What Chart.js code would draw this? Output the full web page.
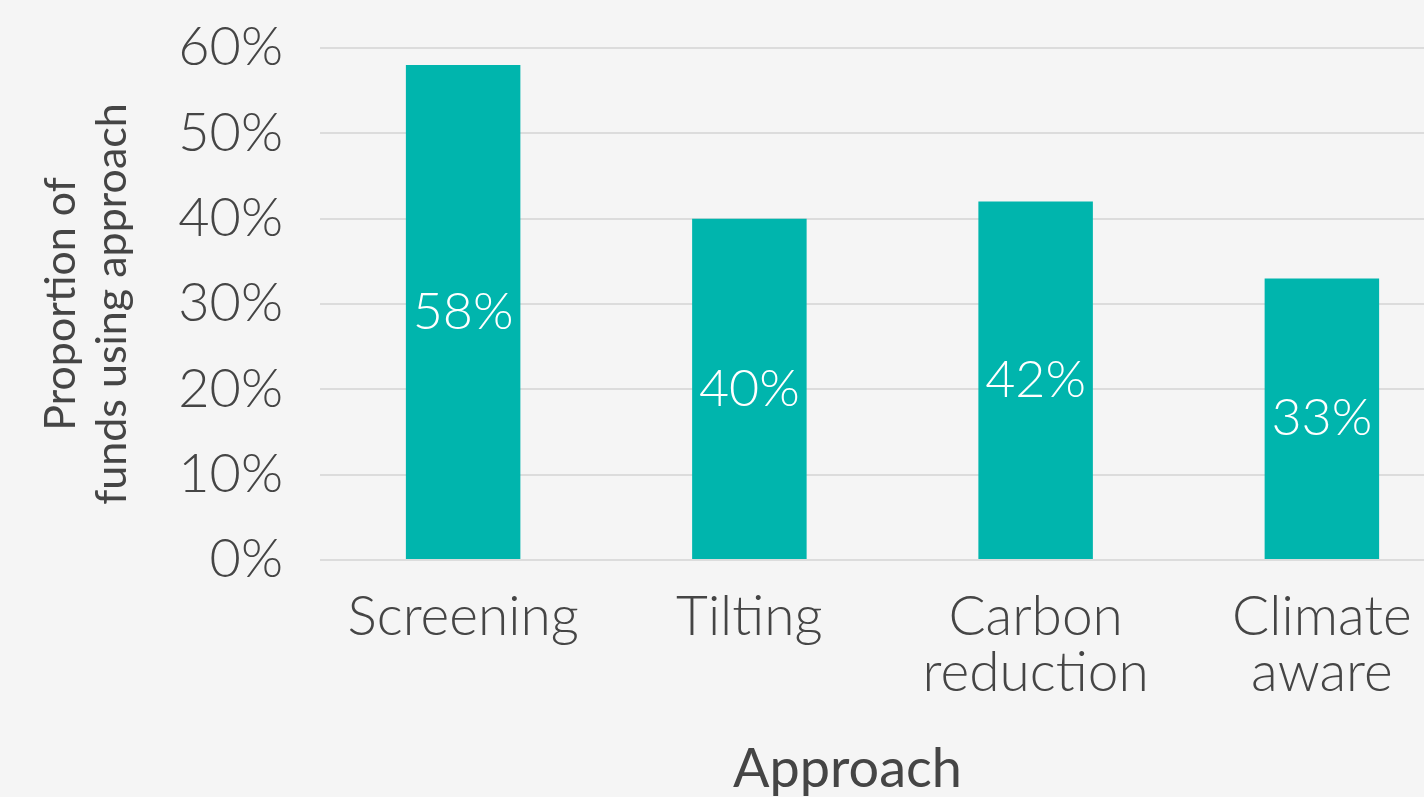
<!DOCTYPE html>
<html>
<head>
<meta charset="utf-8">
<script src="https://cdn.jsdelivr.net/npm/chart.js@4/dist/chart.umd.min.js"></script>
<style>
  html, body { margin: 0; padding: 0; background: #f5f5f5; overflow: hidden; }
  #wrap { width: 1465px; height: 797px; position: relative; }
</style>
</head>
<body>
<div id="wrap"><canvas id="approachChart"></canvas></div>
<script>
// approaches used by funds, share in percent
var approaches = ['Screening', 'Tilting', ['Carbon', 'reduction'], ['Climate', 'aware']];
var shareOfFunds = [58, 40, 42, 33];
var yTicks = [0, 10, 20, 30, 40, 50, 60];
var yTitle = ['Proportion of', 'funds using approach'];
var xTitle = 'Approach';

var textColor = '#454545';
var barColor = '#00b5ad';
var lightFont = 'Lato';

// value labels in the middle of every bar
var barLabels = {
    id: 'barLabels',
    afterDatasetsDraw: function (chart) {
        var ctx = chart.ctx;
        var meta = chart.getDatasetMeta(0);
        ctx.save();
        ctx.fillStyle = '#ffffff';
        ctx.font = '300 52px ' + lightFont;
        ctx.textAlign = 'center';
        ctx.textBaseline = 'middle';
        meta.data.forEach(function (bar, i) {
            var mid = (bar.y + bar.base) / 2;
            ctx.fillText(shareOfFunds[i] + '%', bar.x, mid);
        });
        ctx.restore();
    }
};

// x axis title, a bit left of the plot centre
var xAxisTitle = {
    id: 'xAxisTitle',
    afterDraw: function (chart) {
        var ctx = chart.ctx;
        var area = chart.chartArea;
        ctx.save();
        ctx.fillStyle = textColor;
        ctx.font = '400 54px ' + lightFont;
        ctx.textAlign = 'center';
        ctx.textBaseline = 'alphabetic';
        ctx.fillText(xTitle, (area.left + area.right) / 2 - 45, chart.height - 10);
        ctx.restore();
    }
};

var config = {
    type: 'bar',
    data: {
        labels: approaches,
        datasets: [{
            data: shareOfFunds,
            backgroundColor: barColor,
            barPercentage: 0.4,
            categoryPercentage: 1.0
        }]
    },
    options: {
        responsive: true,
        maintainAspectRatio: false,
        animation: false,
        layout: { padding: { top: 48, left: 0, right: 0, bottom: 0 } },
        plugins: {
            legend: { display: false },
            tooltip: { enabled: false }
        },
        scales: {
            x: {
                grid: { display: false },
                border: { display: false },
                ticks: {
                    color: textColor,
                    font: { family: lightFont, size: 55, weight: '300', lineHeight: 1.02 },
                    padding: 21,
                    maxRotation: 0,
                    autoSkip: false
                },
                afterFit: function (scale) { scale.height = 237; }
            },
            y: {
                min: 0,
                max: 60,
                afterBuildTicks: function (scale) {
                    scale.ticks = yTicks.map(function (v) { return { value: v }; });
                },
                grid: { color: '#dcdcdc', lineWidth: 2, drawTicks: false },
                border: { display: false },
                ticks: {
                    color: textColor,
                    font: { family: lightFont, size: 54, weight: '300' },
                    padding: 37,
                    callback: function (v) { return v + '%'; }
                },
                title: {
                    display: true,
                    text: yTitle,
                    color: textColor,
                    font: { family: lightFont, size: 43, weight: '400', lineHeight: 1.18 },
                    padding: { top: 36, bottom: 0 }
                },
                afterFit: function (scale) {
                    // fixed axis width, no extra space above/below for the tick labels
                    scale.width = 320;
                    scale.paddingTop = 0;
                    scale.paddingBottom = 0;
                }
            }
        }
    },
    plugins: [barLabels, xAxisTitle]
};

var approachChart = new Chart(document.getElementById('approachChart'), config);
</script>
</body>
</html>
